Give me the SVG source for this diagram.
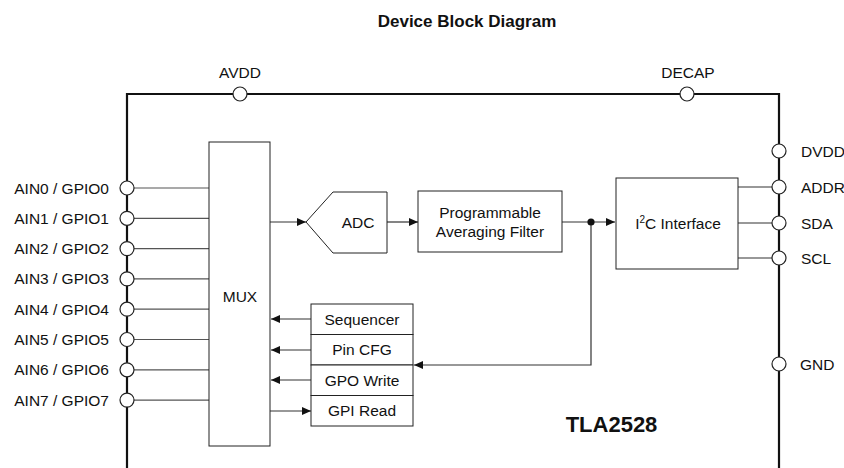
<svg xmlns="http://www.w3.org/2000/svg" width="844" height="468" viewBox="0 0 844 468">
<style>
text{font-family:"Liberation Sans",Arial,sans-serif;font-size:15.5px;fill:#111}
.b{font-weight:bold}
.box{fill:#fff;stroke:#222;stroke-width:1}
.pin{fill:#fff;stroke:#222;stroke-width:1.2}
.thin{fill:none;stroke:#333;stroke-width:1.2}
.feed{fill:none;stroke:#555;stroke-width:1.2}
.thick{fill:none;stroke:#111;stroke-width:2.2}
.m{text-anchor:middle}
.e{text-anchor:end}
</style>
<defs>
<marker id="ah" markerUnits="userSpaceOnUse" markerWidth="10" markerHeight="10" refX="9" refY="4" orient="auto">
<path d="M0,0 L9,4 L0,8 z" fill="#111"/>
</marker>
</defs>
<text class="b m" x="467" y="27" style="font-size:17px">Device Block Diagram</text>

<g id="border">
<path class="thick" d="M127,468 V94 H779 V468"/>
</g>

<g id="connectors">
<path class="feed" d="M134,188H209M134,218.3H209M134,248.6H209M134,278.9H209M134,309.2H209M134,339.5H209M134,369.8H209M134,400.1H209"/>
<path class="thin" d="M270,222H306" marker-end="url(#ah)"/>
<path class="thin" d="M387,222H418" marker-end="url(#ah)"/>
<path class="thin" d="M562,222H615" marker-end="url(#ah)"/>
<path class="thin" d="M591,222V365H414" marker-end="url(#ah)"/>
<circle cx="591" cy="222" r="3.6" fill="#111"/>
<path class="thin" d="M311,319H271" marker-end="url(#ah)"/>
<path class="thin" d="M311,350H271" marker-end="url(#ah)"/>
<path class="thin" d="M311,380H271" marker-end="url(#ah)"/>
<path class="thin" d="M270,411H311" marker-end="url(#ah)"/>
<path class="thin" d="M738,187H772M738,223H772M738,258H772"/>
</g>

<g id="pin-avdd"><circle class="pin" cx="240" cy="94" r="7"/><text class="m" x="240" y="78">AVDD</text></g>
<g id="pin-decap"><circle class="pin" cx="687" cy="94" r="7"/><text class="m" x="688" y="78">DECAP</text></g>
<g id="pin-dvdd"><circle class="pin" cx="779" cy="151" r="7"/><text x="801" y="156.5">DVDD</text></g>
<g id="pin-addr"><circle class="pin" cx="779" cy="187" r="7"/><text x="801" y="192.5">ADDR</text></g>
<g id="pin-sda"><circle class="pin" cx="779" cy="223" r="7"/><text x="801" y="228.5">SDA</text></g>
<g id="pin-scl"><circle class="pin" cx="779" cy="258" r="7"/><text x="801" y="263.5">SCL</text></g>
<g id="pin-gnd"><circle class="pin" cx="779" cy="364" r="7"/><text x="800" y="369.5">GND</text></g>

<g id="pin-ain0"><circle class="pin" cx="127" cy="188" r="7"/><text class="e" x="109" y="193.5">AIN0 / GPIO0</text></g>
<g id="pin-ain1"><circle class="pin" cx="127" cy="218.3" r="7"/><text class="e" x="109" y="223.8">AIN1 / GPIO1</text></g>
<g id="pin-ain2"><circle class="pin" cx="127" cy="248.6" r="7"/><text class="e" x="109" y="254.1">AIN2 / GPIO2</text></g>
<g id="pin-ain3"><circle class="pin" cx="127" cy="278.9" r="7"/><text class="e" x="109" y="284.4">AIN3 / GPIO3</text></g>
<g id="pin-ain4"><circle class="pin" cx="127" cy="309.2" r="7"/><text class="e" x="109" y="314.7">AIN4 / GPIO4</text></g>
<g id="pin-ain5"><circle class="pin" cx="127" cy="339.5" r="7"/><text class="e" x="109" y="345">AIN5 / GPIO5</text></g>
<g id="pin-ain6"><circle class="pin" cx="127" cy="369.8" r="7"/><text class="e" x="109" y="375.3">AIN6 / GPIO6</text></g>
<g id="pin-ain7"><circle class="pin" cx="127" cy="400.1" r="7"/><text class="e" x="109" y="405.6">AIN7 / GPIO7</text></g>

<g id="mux"><rect class="box" x="209" y="142" width="61" height="304"/><text class="m" x="240" y="302">MUX</text></g>
<g id="adc"><path class="box" d="M306,222 L333,192 H387 V253 H333 Z"/><text class="m" x="358" y="228">ADC</text></g>
<g id="filter"><rect class="box" x="418" y="191" width="144" height="61"/><text class="m" x="490" y="218">Programmable</text><text class="m" x="490" y="237">Averaging Filter</text></g>
<g id="i2c"><rect class="box" x="616" y="178" width="122" height="91"/><text class="m" x="678" y="229">I<tspan dy="-6" style="font-size:10px">2</tspan><tspan dy="6">C Interface</tspan></text></g>
<g id="sequencer"><rect class="box" x="311" y="304" width="102" height="30.5"/><text class="m" x="362" y="324.5">Sequencer</text></g>
<g id="pincfg"><rect class="box" x="311" y="334.5" width="102" height="30.5"/><text class="m" x="362" y="355">Pin CFG</text></g>
<g id="gpowrite"><rect class="box" x="311" y="365" width="102" height="30.5"/><text class="m" x="362" y="385.5">GPO Write</text></g>
<g id="gpiread"><rect class="box" x="311" y="395.5" width="102" height="30.5"/><text class="m" x="362" y="416">GPI Read</text></g>

<text class="b m" x="611.5" y="432" style="font-size:22px">TLA2528</text>
</svg>
